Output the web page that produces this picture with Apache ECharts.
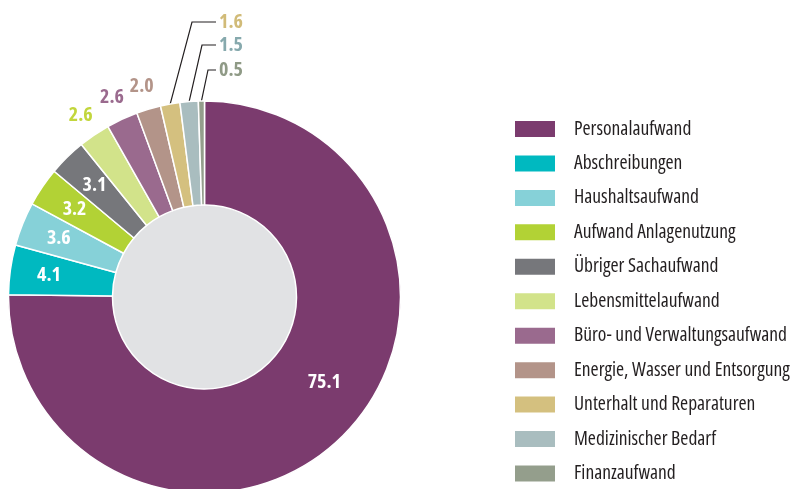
<!DOCTYPE html>
<html><head><meta charset="utf-8">
<script src="https://cdn.jsdelivr.net/npm/echarts@6/dist/echarts.min.js"></script>
<style>html,body{margin:0;padding:0;background:#fff}#c{width:794px;height:489px}</style>
</head><body><div id="c"></div><script>
const categories = ['Personalaufwand','Abschreibungen','Haushaltsaufwand','Aufwand Anlagenutzung','Übriger Sachaufwand','Lebensmittelaufwand','Büro- und Verwaltungsaufwand','Energie, Wasser und Entsorgung','Unterhalt und Reparaturen','Medizinischer Bedarf','Finanzaufwand'];
const values = [75.1, 4.1, 3.6, 3.2, 3.1, 2.6, 2.6, 2.0, 1.6, 1.5, 0.5];
const colors = ['#7b3b6e','#00b9c0','#86d1d8','#b2d235','#76777b','#d2e38a','#9a6a8e','#b39489','#d4c07f','#a9bdbf','#949e8c'];
const labelColors = ['#ffffff','#ffffff','#ffffff','#ffffff','#ffffff','#c2d63c','#9a6a8e','#b39489','#d1bb78','#86a9ad','#8f9a86'];

const FONT = "'Open Sans','Roboto Condensed',sans-serif";
const CX = 204.5, CY = 297, R0 = 92, R1 = 196;
const total = values.reduce((a,b)=>a+b,0);
const midAngles = [];
let cum = 0;
values.forEach(v => { midAngles.push((90 - 360*(cum + v/2)/total) * Math.PI/180); cum += v; });

// label layout (not data)
const insideR = 157, outsideR = 220;
const leader = { 8: {x: 219, y: 22, elbow: 192}, 9: {x: 219, y: 45, elbow: 202}, 10: {x: 219, y: 70, elbow: 208} };

const chart = echarts.init(document.getElementById('c'), null, {renderer:'canvas'});
chart.setOption({
  animation: false,
  legend: {
    orient: 'vertical', left: 513, top: 119, padding: 0,
    itemWidth: 42, itemHeight: 18, itemGap: 14.45, icon: 'rect',
    selectedMode: false,
    data: categories,
    textStyle: { fontFamily: FONT, fontStyle: 'condensed', fontSize: 19.5, color: '#231f20', lineHeight: 18, padding: [0,0,0,13] }
  },
  series: [
    {
      type: 'pie', silent: true, center: [CX, CY], radius: [0, R0],
      label: {show: false}, labelLine: {show: false},
      itemStyle: {color: '#e1e2e4'},
      data: [{value: 1, name: '_inner'}]
    },
    {
      type: 'pie', center: [CX, CY], radius: [R0, R1],
      startAngle: 90, clockwise: true, avoidLabelOverlap: false,
      itemStyle: {borderColor: '#ffffff', borderWidth: 1.5},
      emphasis: {disabled: true},
      labelLine: {show: false},
      data: values.map((v, i) => ({
        value: v, name: categories[i],
        itemStyle: {color: colors[i]},
        label: {
          show: true, position: i < 5 ? 'inside' : 'outside',
          formatter: v.toFixed(1),
          color: labelColors[i], fontFamily: FONT, fontStyle: 'condensed', fontSize: 20, fontWeight: 'bold'
        },
        labelLine: {show: !!leader[i], lineStyle: {color: '#231f20', width: 1.2}, length: 10, length2: 10}
      })),
      labelLayout: function (p) {
        const i = p.dataIndex;
        const a = midAngles[i];
        if (leader[i]) {
          const L = leader[i];
          const sx = CX + R1*Math.cos(a), sy = CY - R1*Math.sin(a);
          return {x: L.x, y: L.y, align: 'left', verticalAlign: 'middle',
            labelLinePoints: [[sx, sy], [L.elbow, L.y], [L.x - 3, L.y]]};
        }
        if (i === 0) {
          const aa = -35.4*Math.PI/180, rr = 147;
          return {x: CX + rr*Math.cos(aa), y: CY - rr*Math.sin(aa), align: 'center', verticalAlign: 'middle'};
        }
        const r = i < 5 ? insideR : outsideR;
        return {x: CX + r*Math.cos(a), y: CY - r*Math.sin(a), align: 'center', verticalAlign: 'middle'};
      }
    }
  ]
});
</script></body></html>
